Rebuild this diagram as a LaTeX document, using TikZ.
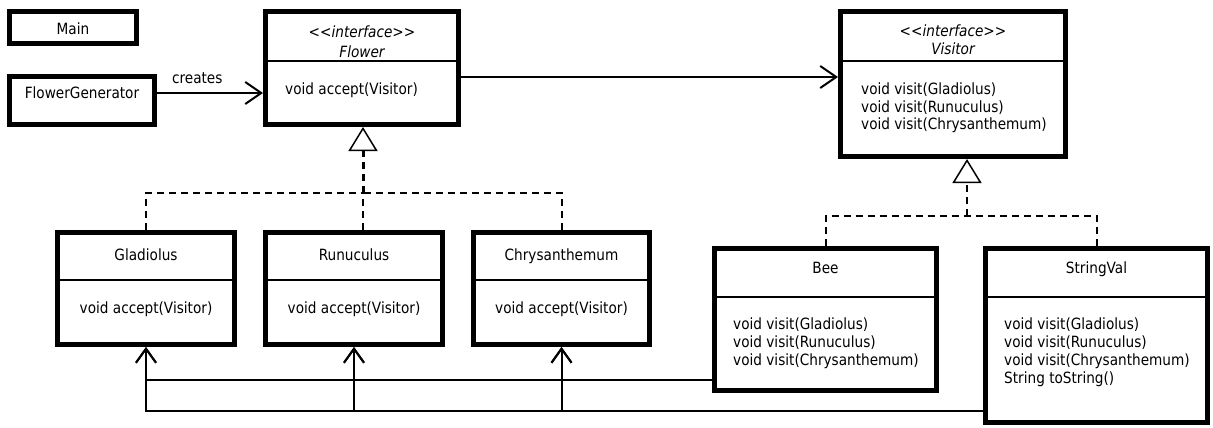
\documentclass[tikz,border=0pt]{standalone}
\usepackage{fontspec}
\setmainfont{DejaVu Sans}[FakeStretch=0.88]
\usetikzlibrary{arrows.meta}
\newcommand\umlfont{\fontsize{15.5}{18}\selectfont}
\newcommand\ifacetag{{<}{<}interface{>}{>}}
\tikzset{
  classbox/.style={draw, line width=5pt, fill=white, inner sep=0pt},
  divider/.style={line width=1.4pt},
  title/.style={inner sep=0pt, anchor=base, font=\umlfont},
  stereo/.style={inner sep=0pt, anchor=base, font=\umlfont\itshape},
  meth/.style={inner sep=0pt, anchor=base west, font=\umlfont},
  dashedline/.style={line width=2pt, dash pattern=on 7pt off 5pt},
  realize/.style={dashedline, line width=3pt,
    -{Triangle[open, length=24pt, width=29pt, line width=1.5pt]}},
  assoc/.style={line width=2pt,
    -{Straight Barb[length=14pt, width=20pt, line width=2pt]}},
  dep/.style={line width=2pt,
    -{Straight Barb[length=16pt, width=22pt, line width=2pt]}},
}
\begin{document}
\begin{tikzpicture}[x=1pt, y=-1pt]
\useasboundingbox (0,0) rectangle (1213,428);

% ---- class boxes ----
\node[classbox, minimum width=127pt, minimum height=32pt]  (main)  at (73,27.5) {};
\node[classbox, minimum width=145pt, minimum height=48pt]  (fgen)  at (82,100.5) {};
\node[classbox, minimum width=193pt, minimum height=113pt] (flower) at (362,68) {};
\node[classbox, minimum width=225pt, minimum height=145pt] (visitor) at (953,84) {};
\node[classbox, minimum width=177pt, minimum height=112pt] (glad)  at (146,288.5) {};
\node[classbox, minimum width=177pt, minimum height=112pt] (runu)  at (354,288.5) {};
\node[classbox, minimum width=176pt, minimum height=112pt] (chrys) at (561.5,288.5) {};
\node[classbox, minimum width=222pt, minimum height=142pt] (bee)   at (825.5,319.5) {};
\node[classbox, minimum width=222pt, minimum height=174pt] (sval)  at (1096.5,335.5) {};

% ---- compartment dividers ----
\draw[divider] (flower.west |- 0,61) -- (flower.east |- 0,61);
\draw[divider] (visitor.west |- 0,61) -- (visitor.east |- 0,61);
\draw[divider] (glad.west |- 0,280) -- (glad.east |- 0,280);
\draw[divider] (runu.west |- 0,280) -- (runu.east |- 0,280);
\draw[divider] (chrys.west |- 0,280) -- (chrys.east |- 0,280);
\draw[divider] (bee.west |- 0,297) -- (bee.east |- 0,297);
\draw[divider] (sval.west |- 0,297) -- (sval.east |- 0,297);

% ---- names and members ----
\node[title] (mainT) at (73,35) {Main};
\node[title] (fgenT) at (82,99) {FlowerGenerator};

\node[stereo] (flowerS) at (362,38) {\ifacetag};
\node[stereo] (flowerT) at (362,58) {Flower};
\node[meth]   (flowerM) at (285,94) {void accept(Visitor)};

\node[stereo] (visitorS) at (953,37) {\ifacetag};
\node[stereo] (visitorT) at (953,55) {Visitor};
\node[meth] (visitorM1) at (861,94)  {void visit(Gladiolus)};
\node[meth] (visitorM2) at (861,112) {void visit(Runuculus)};
\node[meth] (visitorM3) at (861,129) {void visit(Chrysanthemum)};

\node[title] (gladT)  at (146,260) {Gladiolus};
\node[title] (gladM)  at (146,313) {void accept(Visitor)};
\node[title] (runuT)  at (354,260) {Runuculus};
\node[title] (runuM)  at (354,313) {void accept(Visitor)};
\node[title] (chrysT) at (561.5,260) {Chrysanthemum};
\node[title] (chrysM) at (561.5,313) {void accept(Visitor)};

\node[title] (beeT) at (825.5,273) {Bee};
\node[meth] (beeM1) at (733,329) {void visit(Gladiolus)};
\node[meth] (beeM2) at (733,347) {void visit(Runuculus)};
\node[meth] (beeM3) at (733,365) {void visit(Chrysanthemum)};

\node[title] (svalT) at (1096.5,273) {StringVal};
\node[meth] (svalM1) at (1004,329) {void visit(Gladiolus)};
\node[meth] (svalM2) at (1004,347) {void visit(Runuculus)};
\node[meth] (svalM3) at (1004,365) {void visit(Chrysanthemum)};
\node[meth] (svalM4) at (1004,383) {String toString()};

% ---- dependencies ----
\draw[dep] (fgen.east |- 0,93) -- (flower.west |- 0,93)
  node[pos=0.38, above=8pt, inner sep=0pt, font=\umlfont] (createsL) {creates};
\draw[dep] (flower.east |- 0,77) -- (visitor.west |- 0,77);

% ---- realizations: branches meet at a join, one shared trunk ----
\coordinate (fjoin) at (363,193);
\coordinate (vjoin) at (967,216);
\draw[dashedline] (glad.north) |- (fjoin);
\draw[dashedline] (chrys.north) |- (fjoin);
\draw[dashedline] (fjoin |- runu.north) -- (fjoin);
\draw[realize] (fjoin) -- (fjoin |- flower.south);
\draw[dashedline] (bee.north) |- (vjoin);
\draw[dashedline] (sval.north) |- (vjoin);
\draw[realize, line width=2pt] (vjoin) -- (vjoin |- visitor.south);

% ---- visitor navigations ----
\coordinate (beeRail) at (0,380);
\coordinate (svalRail) at (0,411);
\draw[assoc] (bee.west |- beeRail) -| (glad.south);
\draw[assoc] (bee.west |- beeRail) -| (runu.south);
\draw[assoc] (bee.west |- beeRail) -| (chrys.south);
\draw[assoc] (sval.west |- svalRail) -| (glad.south);
\draw[assoc] (sval.west |- svalRail) -| (runu.south);
\draw[assoc] (sval.west |- svalRail) -| (chrys.south);
\end{tikzpicture}
\end{document}
